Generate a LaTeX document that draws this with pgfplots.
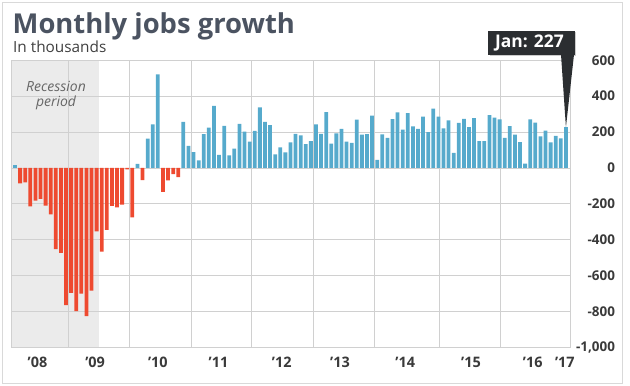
\documentclass[border=0pt]{standalone}
\usepackage{pgfplots}
\pgfplotsset{compat=1.18}
\usepackage{pgfplotstable}
\usepackage{fontspec}
\setmainfont{Open Sans}
\definecolor{posblue}{HTML}{56AACC}
\definecolor{negred}{HTML}{EE4A30}
\definecolor{recgray}{HTML}{EBEBEB}
\definecolor{gridgray}{HTML}{D0D0D0}
\definecolor{titlecol}{HTML}{4B5361}
\definecolor{callout}{HTML}{2B2E31}
\definecolor{ticktext}{HTML}{3A3A3A}

\pgfplotstableread{
idx val
0 16
1 -86
2 -80
3 -214
4 -182
5 -172
6 -210
7 -259
8 -452
9 -474
10 -765
11 -697
12 -798
13 -701
14 -826
15 -684
16 -354
17 -467
18 -345
19 -211
20 -220
21 -204
22 -8
23 -275
24 23
25 -68
26 164
27 243
28 522
29 -133
30 -70
31 -34
32 -52
33 257
34 123
35 88
36 42
37 188
38 225
39 346
40 73
41 235
42 70
43 107
44 246
45 202
46 146
47 207
48 338
49 257
50 239
51 75
52 115
53 87
54 143
55 190
56 181
57 132
58 149
59 243
60 190
61 311
62 135
63 192
64 218
65 146
66 140
67 269
68 185
69 189
70 291
71 45
72 187
73 168
74 272
75 310
76 213
77 306
78 232
79 218
80 286
81 200
82 331
83 286
84 221
85 265
86 84
87 251
88 273
89 228
90 277
91 150
92 149
93 295
94 280
95 271
96 168
97 233
98 186
99 144
100 24
101 271
102 252
103 176
104 208
105 142
106 178
107 165
108 227
}\jobs

\begin{document}
\begin{tikzpicture}
\path (0bp,0bp) rectangle (630bp,386bp);
\draw[gray!30, line width=0.8bp] (2bp,2.5bp) rectangle (622bp,383.5bp);
\node[anchor=base west, inner sep=0, text=titlecol, font=\bfseries\fontsize{27.5}{30}\selectfont] at (12.5bp,352.7bp) {Monthly jobs growth};
\node[anchor=base west, inner sep=0, text=black!75, font=\fontsize{15.4}{17}\selectfont] at (13bp,333.5bp) {In thousands};
\begin{axis}[
  at={(11.7bp,38.7bp)}, anchor=south west,
  scale only axis, width=558.3bp, height=287bp,
  xmin=-0.65, xmax=108.8, ymin=-1000, ymax=600,
  set layers=standard,
  axis line style={gridgray, line width=0.8bp},
  xtick={10.45,22.35,34.5,46.4,58.5,70.5,83.2,95.2},
  xticklabels={},
  xmajorgrids, ymajorgrids,
  grid style={gridgray, line width=0.7bp},
  major tick length=0pt,
  extra x ticks={4.4,15.7,28,39.9,52.3,63.7,76.5,89.4,101.5,107.8},
  extra x tick labels={’08,’09,’10,’11,’12,’13,’14,’15,’16,’17},
  extra x tick style={grid=none, major tick length=0pt},
  xticklabel style={font=\bfseries\fontsize{14.5}{16}\selectfont, text=ticktext, yshift=-6.5bp},
  ytick={-1000,-800,-600,-400,-200,0,200,400,600},
  yticklabel pos=right,
  yticklabel style={font=\bfseries\fontsize{13.5}{16}\selectfont, text=ticktext, anchor=east, xshift=48.5bp,
    /pgf/number format/1000 sep={,}, /pgf/number format/assume math mode=true},
]
\addplot[on layer=axis background, fill=recgray, draw=none] coordinates {(-0.65,-1000) (16.5,-1000) (16.5,600) (-0.65,600)} -- cycle;
\addplot[ybar, bar width=0.74, bar shift=0pt, fill=posblue, draw=none, restrict y to domain=0:2000] table[x=idx, y=val] {\jobs};
\addplot[ybar, bar width=0.74, bar shift=0pt, fill=negred, draw=none, restrict y to domain=-2000:-0.001] table[x=idx, y=val] {\jobs};
\coordinate (tip) at (axis cs:108,227);
\end{axis}
\node[align=center, text=black!60, font=\itshape\fontsize{14}{15}\selectfont] at (56bp,290bp) {Recession\\period};
\fill[black!20] (489.5bp,329.5bp) rectangle (575.5bp,353.5bp);
\fill[callout] (488bp,331bp) rectangle (574.5bp,355bp);
\fill[callout] (561bp,331.5bp) -- (574bp,331.5bp) -- (tip) -- cycle;
\node[text=white, font=\bfseries\fontsize{17.5}{19}\selectfont] at (529.5bp,343bp) {Jan: 227};
\end{tikzpicture}
\end{document}
